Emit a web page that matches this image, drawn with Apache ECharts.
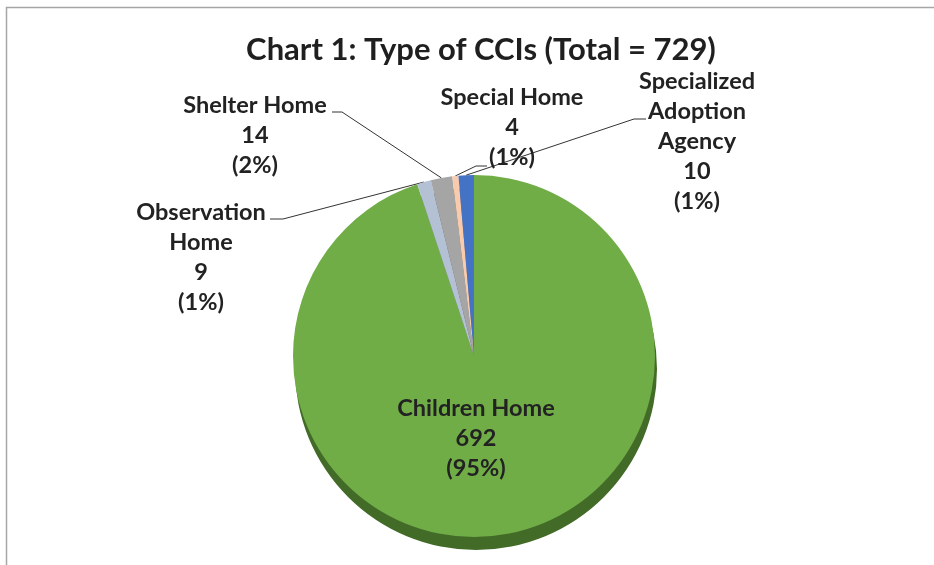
<!DOCTYPE html>
<html>
<head>
<meta charset="utf-8">
<script src="https://cdn.jsdelivr.net/npm/echarts@6/dist/echarts.min.js"></script>
<style>
html, body { margin: 0; padding: 0; background: #fff; }
#chart { width: 934px; height: 565px; }
</style>
</head>
<body>
<div id="chart"></div>
<script>
// data, in the sheet's (alphabetical) order, drawn clockwise from 12 o'clock
const categories = ['Children Home', 'Observation Home', 'Shelter Home', 'Special Home', 'Specialized Adoption Agency'];
const counts = [692, 9, 14, 4, 10];
const labelNames = ['Children Home', 'Observation\nHome', 'Shelter Home', 'Special Home', 'Specialized\nAdoption\nAgency'];

const topColors = ['#70AD47', '#B4C0D3', '#A5A5A5', '#F8CBAD', '#4472C4'];
const sideColors = ['#426B28', '#6F7A8A', '#636363', '#B58A70', '#2A4A85'];

// label block: center x, top y, and the leader line elbow / end
const labelSpots = [
  { x: 476, y: 393 },
  { x: 201, y: 197, elbow: [283, 219], end: [270, 219] },
  { x: 255, y: 90, elbow: [342, 112], end: [332, 112] },
  { x: 512, y: 82, elbow: [476, 166], end: [487, 166] },
  { x: 697, y: 66, elbow: [634, 119], end: [646, 119] }
];

const FONT = 'Lato, "Open Sans", sans-serif';

var myChart = echarts.init(document.getElementById('chart'));

const pieData = categories.map(function (name, i) {
  const item = { name: name, value: counts[i], itemStyle: { color: topColors[i] } };
  if (i === 0) {
    item.label = { position: 'inside' };
    item.labelLine = { show: false };
  }
  return item;
});

const sideData = categories.map(function (name, i) {
  return { name: name, value: counts[i], itemStyle: { color: sideColors[i] } };
});

myChart.setOption({
  animation: false,
  title: {
    text: 'Chart 1: Type of CCIs (Total = 729)',
    left: 476,
    top: 29,
    textAlign: 'center',
    textStyle: {
      fontFamily: FONT,
      fontSize: 31,
      fontWeight: 'bold',
      color: '#1f1f1f'
    }
  },
  graphic: [
    {
      type: 'rect',
      silent: true,
      shape: { x: 6.5, y: 7.5, width: 1000, height: 1000 },
      style: { fill: 'none', stroke: '#a6a6a6', lineWidth: 1.5 }
    }
  ],
  series: [
    {
      // darker copy underneath gives the tilted pie its edge
      type: 'pie',
      silent: true,
      center: [476, 369],
      radius: 181,
      startAngle: 90,
      label: { show: false },
      labelLine: { show: false },
      data: sideData
    },
    {
      type: 'pie',
      center: [474, 356],
      radius: 181,
      startAngle: 90,
      percentPrecision: 0,
      itemStyle: { borderWidth: 0 },
      label: {
        show: true,
        position: 'outside',
        formatter: function (p) {
          return labelNames[p.dataIndex] + '\n' + p.value + '\n(' + p.percent + '%)';
        },
        fontFamily: FONT,
        fontSize: 23.5,
        fontWeight: 'bold',
        lineHeight: 30,
        color: '#222222',
        align: 'center'
      },
      labelLine: {
        show: true,
        lineStyle: { color: '#333333', width: 1 }
      },
      labelLayout: function (params) {
        const spot = labelSpots[params.dataIndex];
        const out = { x: spot.x, y: spot.y, align: 'center', verticalAlign: 'top' };
        if (spot.elbow && params.labelLinePoints) {
          out.labelLinePoints = [params.labelLinePoints[0], spot.elbow, spot.end];
        }
        return out;
      },
      data: pieData
    }
  ]
});
</script>
</body>
</html>
